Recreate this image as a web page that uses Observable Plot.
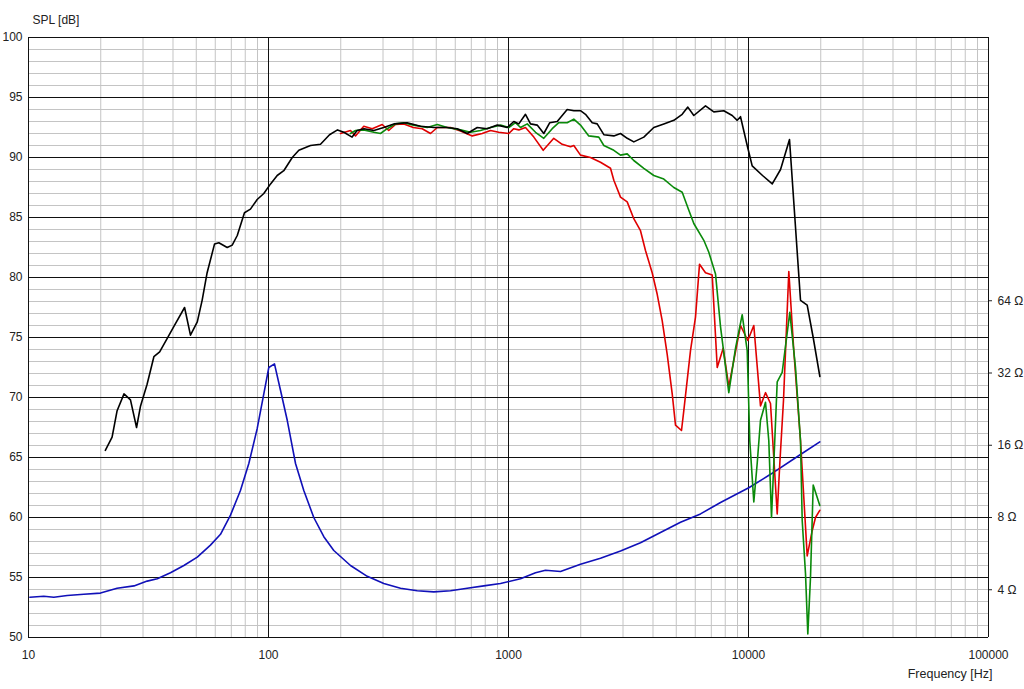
<!DOCTYPE html>
<html>
<head>
<meta charset="utf-8">
<script src="https://cdn.jsdelivr.net/npm/d3@7"></script>
<script src="https://cdn.jsdelivr.net/npm/@observablehq/plot@0.6"></script>
<style>
  html, body { margin: 0; padding: 0; background: #fff; }
  #chart { width: 1024px; height: 689px; }
</style>
</head>
<body>
<div id="chart"></div>
<script>
// ---- data: [frequency Hz, level dB] ----
const splOnAxis = [
  [20.9,65.6],[22.3,66.7],[23.4,68.9],[25.0,70.3],[26.6,69.8],[28.2,67.5],[29.3,69.3],[31.2,71.1],
  [33.3,73.4],[35.2,73.8],[37.8,74.9],[40.3,75.9],[44.7,77.5],[47.3,75.2],[50.5,76.3],[52.9,78.1],
  [55.5,80.4],[59.6,82.8],[62.1,82.9],[67.3,82.5],[70.6,82.7],[74.1,83.5],[79.4,85.4],[84.1,85.7],
  [89.7,86.5],[95.6,87.0],[102,87.8],[108.7,88.5],[115.8,88.9],[125.6,90.0],[133.8,90.6],[149.6,91.0],
  [164.7,91.1],[179.6,91.9],[193.9,92.3],[206,92.1],[223,91.7],[234,92.25],[250,92.4],[275,92.25],
  [302,92.5],[333,92.8],[378,92.9],[430,92.6],[489,92.5],[555,92.5],[611,92.4],[673,92.0],[741,92.5],
  [815,92.4],[898,92.7],[988,92.5],[1052,93.0],[1104,92.8],[1177,93.6],[1235,92.8],[1317,92.7],
  [1403,92.0],[1486,92.9],[1596,93.0],[1756,94.0],[1872,93.9],[1995,93.9],[2093,93.6],[2233,92.9],
  [2342,92.8],[2496,91.9],[2747,91.8],[2929,92.0],[3124,91.6],[3328,91.3],[3663,91.7],[4031,92.5],
  [4437,92.8],[4885,93.1],[5292,93.6],[5587,94.2],[5918,93.5],[6620,94.3],[7170,93.8],[7890,93.9],
  [8553,93.5],[8977,93.1],[9262,93.4],[9876,91.0],[10360,89.3],[11440,88.5],[12560,87.8],[13600,89.0],
  [14820,91.5],[16470,78.1],[17560,77.7],[18600,75.0],[19830,71.75]
];
const splOffAxisGreen = [
  [219.6,92.0],[230.4,92.25],[249.5,92.3],[274.7,92.1],[292.9,92.0],[312.3,92.4],[338.2,92.8],[366.3,92.9],
  [401.2,92.7],[458.4,92.5],[505.1,92.75],[555.4,92.5],[631,92.3],[694.6,92.1],[764.5,92.25],[841.4,92.5],
  [926.2,92.7],[1003,92.5],[1069,92.9],[1122,92.5],[1197,92.8],[1296,92.1],[1403,91.6],[1521,92.4],
  [1620,92.9],[1756,92.9],[1871,93.2],[1995,92.7],[2160,91.8],[2378,91.7],[2496,91.0],[2747,90.6],
  [2929,90.2],[3123,90.3],[3327,89.75],[3663,89.1],[4031,88.5],[4437,88.2],[4884,87.5],[5294,87.1],
  [5641,85.6],[5917,84.5],[6513,83.1],[6833,82.1],[7287,80.3],[7645,75.9],[8278,70.4],[8826,74.1],
  [9413,76.9],[9876,73.9],[10125,66.4],[10522,61.3],[10870,64.5],[11220,68.1],[11771,69.6],[12150,66.4],
  [12469,60.0],[12748,64.5],[13171,71.3],[13816,72.1],[14863,77.1],[15697,72.5],[16469,66.4],[16740,59.75],
  [17281,55.3],[17666,50.3],[18127,55.0],[18604,62.7],[19819,61.0]
];
const splOffAxisRed = [
  [199.5,92.0],[219.6,92.25],[230.4,91.8],[249.5,92.6],[270.5,92.4],[297.7,92.75],[316.9,92.25],[338.2,92.75],
  [366.3,92.8],[401.2,92.5],[436.9,92.4],[473.1,92.0],[505.1,92.5],[573.2,92.5],[631,92.2],[706,91.8],
  [777,92.0],[841.4,92.25],[911.2,92.1],[1003,92.0],[1052,92.4],[1104,92.3],[1177,92.5],[1275,91.7],
  [1395,90.6],[1544,91.6],[1674,91.1],[1813,90.9],[1871,91.0],[1995,90.2],[2196,90.0],[2417,89.6],
  [2661,89.1],[2747,88.1],[2929,86.7],[3123,86.3],[3327,84.9],[3548,83.9],[3722,82.25],[3969,80.4],
  [4165,78.6],[4369,76.4],[4584,73.6],[4810,70.3],[4964,67.7],[5258,67.25],[5376,68.9],[5732,73.9],
  [6014,76.7],[6250,81.1],[6620,80.4],[7060,80.2],[7407,72.5],[7845,74.1],[8278,70.9],[9262,76.0],
  [9933,74.75],[10522,76.0],[11220,69.3],[11771,70.4],[12350,69.5],[13171,60.3],[13503,64.5],[13989,69.75],
  [14722,80.5],[15443,73.9],[16469,66.4],[17563,56.8],[18426,58.9],[19017,60.0],[19819,60.6]
];
const impedanceCurve = [
  [10.13,53.36],[11.58,53.44],[12.75,53.36],[14.5,53.5],[17.0,53.6],[19.95,53.7],[23.4,54.1],[27.5,54.3],
  [31.23,54.7],[34.4,54.9],[39.05,55.4],[44.4,56.0],[50.5,56.7],[57.3,57.7],[63.1,58.6],[69.45,60.2],
  [76.4,62.25],[82.8,64.5],[89.7,67.4],[95.6,70.3],[100.3,72.5],[105.9,72.8],[112.2,70.6],[119.7,68.1],
  [129.6,64.5],[140.3,62.25],[154.4,60.0],[170,58.4],[187.1,57.25],[219.6,56.0],[257.9,55.1],[302.3,54.5],
  [354.8,54.1],[416.5,53.9],[488.3,53.8],[573.2,53.9],[672.9,54.1],[789,54.3],[926.2,54.5],[1122,54.9],
  [1296,55.4],[1426,55.6],[1647,55.5],[1995,56.1],[2417,56.6],[2929,57.2],[3548,57.9],[4298,58.75],
  [5208,59.6],[6310,60.3],[7645,61.25],[10070,62.5],[12350,63.6],[16469,65.25],[19819,66.3]
];

// ---- axes ----
const xTicks = [10, 100, 1000, 10000, 100000];
const yTicks = [50, 55, 60, 65, 70, 75, 80, 85, 90, 95, 100];
const impedanceTicks = [4, 8, 16, 32, 64];          // ohms
const impedanceRef = 8;                               // 8 ohm sits on 60 dB
const impedanceRefDb = 60;

const minorX = xTicks.slice(0, -1).flatMap(d => d3.range(2, 10).map(k => k * d));
const minorY = d3.range(50, 101).filter(d => d % 5 !== 0);
const zToDb = z => impedanceRefDb + 20 * Math.log10(z / impedanceRef);
const impTickDb = impedanceTicks.map(zToDb);

const font = "'Liberation Sans', Arial, Helvetica, sans-serif";

const chart = Plot.plot({
  width: 1024,
  height: 689,
  marginLeft: 28,
  marginRight: 36,
  marginTop: 37,
  marginBottom: 52,
  style: { fontFamily: font, fontSize: "12px", color: "#222", background: "#fff" },
  x: { type: "log", domain: [10, 100000] },
  y: { domain: [50, 100] },
  marks: [
    Plot.ruleY(minorY, { stroke: "#c4c4c4", strokeWidth: 1 }),
    Plot.ruleX(minorX, { stroke: "#c4c4c4", strokeWidth: 1 }),
    Plot.ruleY(yTicks, { stroke: "#111", strokeWidth: 1 }),
    Plot.ruleX(xTicks, { stroke: "#111", strokeWidth: 1 }),
    Plot.line(impedanceCurve, { x: d => d[0], y: d => d[1], stroke: "#1010b8", strokeWidth: 1.6 }),
    Plot.line(splOffAxisRed, { x: d => d[0], y: d => d[1], stroke: "#e00000", strokeWidth: 1.6 }),
    Plot.line(splOffAxisGreen, { x: d => d[0], y: d => d[1], stroke: "#0a8a0a", strokeWidth: 1.6 }),
    Plot.line(splOnAxis, { x: d => d[0], y: d => d[1], stroke: "#000", strokeWidth: 1.6 }),
    Plot.axisX({ ticks: xTicks, tickFormat: d => String(d), tickSize: 0, tickPadding: 13, label: null }),
    Plot.axisY({ anchor: "left", ticks: yTicks, tickFormat: d => String(d), tickSize: 0, tickPadding: 6, label: null }),
    Plot.axisY({
      anchor: "right", ticks: impTickDb, tickSize: 3, tickPadding: 6, label: null,
      tickFormat: d => `${impedanceTicks[impTickDb.indexOf(d)]} Ω`
    }),
    Plot.text(["SPL [dB]"], { text: d => d, frameAnchor: "top-left", dx: 4, dy: -22, textAnchor: "start", fill: "#222" }),
    Plot.text(["Frequency [Hz]"], { text: d => d, frameAnchor: "bottom-right", dx: 4, dy: 40, textAnchor: "end", fill: "#222", fontSize: 12.5 })
  ]
});
document.getElementById("chart").appendChild(chart);
</script>
</body>
</html>
